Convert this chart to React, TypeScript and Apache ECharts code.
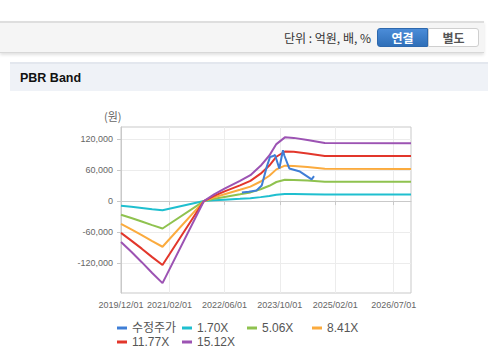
import React, { useEffect, useRef } from "react";
import * as echarts from "echarts";

// ---- data ----
const bandDates = [
  "2019-12-01", "2020-03-01", "2020-06-01", "2020-09-01", "2020-12-01",
  "2021-12-01", "2022-03-01", "2022-06-01", "2022-10-15", "2023-01-15",
  "2023-04-15", "2023-07-01", "2023-09-01", "2023-11-15", "2024-02-01",
  "2024-06-01", "2024-11-01", "2026-12-01",
];
const band170 = [-8900, -11000, -13300, -15600, -17800, 0, 1500, 2700, 4400, 5600, 7600, 9900, 12400, 13800, 13700, 13300, 12600, 12500];
const band506 = [-26400, -32800, -39500, -46500, -53000, 0, 4400, 8000, 13100, 16700, 22800, 29500, 36800, 41200, 40800, 39500, 37500, 37300];
const band841 = [-43900, -54500, -65600, -77300, -88200, 0, 7200, 13300, 21700, 27800, 37800, 48900, 61200, 68400, 67900, 65600, 62300, 62000];
const band1177 = [-61500, -76300, -91900, -108200, -123400, 0, 10100, 18700, 30400, 38900, 52900, 68500, 85600, 95700, 95000, 91900, 87200, 86800];
const band1512 = [-79000, -98000, -118000, -139000, -158500, 0, 13000, 24000, 39000, 50000, 68000, 88000, 110000, 123000, 122000, 118000, 112000, 111500];

const priceDates = [
  "2022-11-01", "2023-01-01", "2023-03-10", "2023-04-25", "2023-06-08",
  "2023-07-07", "2023-08-05", "2023-08-20", "2023-09-27", "2023-10-29",
  "2023-11-10", "2023-12-24", "2024-03-27", "2024-07-08", "2024-07-29",
];
const priceValues = [16500, 18000, 20500, 30000, 66000, 85000, 87000, 89000, 63000, 98000, 88000, 63000, 57000, 42000, 48000];

const xTickLabels = ["2019/12/01", "2021/02/01", "2022/06/01", "2023/10/01", "2025/02/01", "2026/07/01"];
const yTickValues = [-120000, -60000, 0, 60000, 120000];
const seriesNames = ["수정주가", "1.70X", "5.06X", "8.41X", "11.77X", "15.12X"];
const seriesColors = ["#3f7ed6", "#1fbfcf", "#8fc24f", "#fbab3e", "#e2362b", "#9c53b3"];

const xStart = "2019/12/01";
const xEnd = "2026/12/01";
const yMin = -177500;
const yMax = 143000;

function ts(s: string): number {
  const [y, m, d] = s.split(/[-\/]/).map(Number);
  return new Date(y, m - 1, d).getTime();
}
function pad(n: number) {
  return n < 10 ? "0" + n : "" + n;
}
function fmtDate(v: number) {
  const d = new Date(v);
  return d.getFullYear() + "/" + pad(d.getMonth() + 1) + "/" + pad(d.getDate());
}
function fmtNum(v: number) {
  const s = Math.abs(v).toString().replace(/\B(?=(\d{3})+(?!\d))/g, ",");
  return (v < 0 ? "-" : "") + s;
}

const FONT = "'Liberation Sans', 'Noto Sans CJK KR', Arial, sans-serif";
const KFONT = "'Noto Sans CJK KR', 'Liberation Sans', sans-serif";

function Chart() {
  const ref = useRef<HTMLDivElement>(null);
  useEffect(() => {
    if (!ref.current) return;
    const chart = echarts.init(ref.current, undefined, { renderer: "svg" });
    const bands = [band170, band506, band841, band1177, band1512];
    const series: any[] = [
      {
        name: seriesNames[0],
        type: "line",
        showSymbol: false,
        z: 5,
        data: priceDates.map((d, i) => [ts(d), priceValues[i]]),
        lineStyle: { width: 2, color: seriesColors[0] },
        itemStyle: { color: seriesColors[0] },
      },
      ...bands.map((b, k) => ({
        name: seriesNames[k + 1],
        type: "line",
        showSymbol: false,
        z: 2 + k * 0.1,
        data: bandDates.map((d, i) => [ts(d), b[i]]),
        lineStyle: { width: 2, color: seriesColors[k + 1] },
        itemStyle: { color: seriesColors[k + 1] },
      })),
    ];
    const legendPos = [
      [117, 322], [182, 322], [247, 322], [312, 322],
      [117, 336], [182, 336],
    ];
    chart.setOption({
      animation: false,
      textStyle: { fontFamily: FONT },
      grid: {
        left: 121,
        top: 127,
        right: 77,
        bottom: 69,
        show: true,
        borderColor: "#c9c9c9",
        borderWidth: 1,
        containLabel: false,
      },
      legend: seriesNames.map((name, j) => ({
        data: [name],
        left: legendPos[j][0],
        top: legendPos[j][1],
        padding: 0,
        icon: "rect",
        itemWidth: 10,
        itemHeight: 3,
        textStyle: { fontSize: 12, color: "#555", fontFamily: FONT },
        selectedMode: false,
      })),
      graphic: [
        {
          type: "text",
          left: 104,
          top: 110,
          style: { text: "(원)", fontSize: 11, fill: "#666", fontFamily: KFONT },
        },
      ],
      xAxis: {
        type: "value",
        min: ts(xStart),
        max: ts(xEnd),
        axisLine: { show: true, lineStyle: { color: "#c9c9c9" } },
        axisTick: {
          show: true,
          length: 4,
          lineStyle: { color: "#c9c9c9" },
          customValues: xTickLabels.map(ts),
        },
        splitLine: { show: true, lineStyle: { color: "#ececec" } },
        axisLabel: {
          customValues: xTickLabels.map(ts),
          formatter: (v: number) => fmtDate(v),
          fontSize: 9,
          color: "#666",
          margin: 7,
          fontFamily: FONT,
          showMinLabel: true,
          showMaxLabel: true,
        },
      },
      yAxis: {
        type: "value",
        min: yMin,
        max: yMax,
        axisLine: { show: true, lineStyle: { color: "#c9c9c9" } },
        axisTick: {
          show: true,
          length: 4,
          lineStyle: { color: "#c9c9c9" },
          customValues: yTickValues,
        },
        splitLine: { show: true, lineStyle: { color: "#ececec" } },
        axisLabel: {
          customValues: yTickValues,
          formatter: (v: number) => fmtNum(v),
          fontSize: 9,
          color: "#666",
          margin: 8,
          fontFamily: FONT,
        },
      },
      series,
    });
    return () => chart.dispose();
  }, []);
  return (
    <div
      ref={ref}
      style={{ position: "absolute", left: 0, top: 0, width: 488, height: 362 }}
    />
  );
}

export default function App() {
  return (
    <div
      style={{
        position: "fixed",
        left: 0,
        top: 0,
        width: 488,
        height: 362,
        background: "#fff",
        overflow: "hidden",
        fontFamily: KFONT,
      }}
    >
      <div
        style={{
          position: "absolute",
          left: 0,
          top: 21,
          width: 484,
          height: 29,
          background: "#f5f5f5",
          borderTop: "2px solid #dedede",
          borderBottom: "1px solid #d8d8d8",
          boxShadow: "0 2px 3px rgba(0,0,0,0.12)",
        }}
      />
      <div
        style={{
          position: "absolute",
          left: 230,
          top: 29,
          width: 141,
          height: 18,
          textAlign: "right",
          fontSize: 12,
          lineHeight: "18px",
          color: "#333",
          whiteSpace: "nowrap",
        }}
      >
        단위 : 억원, 배, %
      </div>
      <div
        style={{
          position: "absolute",
          left: 377,
          top: 28,
          width: 51,
          height: 19,
          background: "linear-gradient(#4b8cd8, #2f6fb8)",
          borderRadius: "3px 0 0 3px",
          color: "#fff",
          fontWeight: "bold",
          fontSize: 12,
          lineHeight: "17px",
          textAlign: "center",
          boxSizing: "border-box",
          border: "1px solid #2d68ad",
        }}
      >
        연결
      </div>
      <div
        style={{
          position: "absolute",
          left: 428,
          top: 28,
          width: 51,
          height: 19,
          background: "#fff",
          borderRadius: "0 3px 3px 0",
          color: "#555",
          fontWeight: "bold",
          fontSize: 12,
          lineHeight: "17px",
          textAlign: "center",
          boxSizing: "border-box",
          border: "1px solid #cfcfcf",
        }}
      >
        별도
      </div>
      <div
        style={{
          position: "absolute",
          left: 10,
          top: 62,
          width: 478,
          height: 29,
          background: "#eff2f7",
          borderTop: "2px solid #e3e7ee",
          boxSizing: "border-box",
        }}
      />
      <div
        style={{
          position: "absolute",
          left: 20,
          top: 69,
          fontSize: 12.5,
          lineHeight: "18px",
          fontWeight: "bold",
          color: "#111",
          fontFamily: "'Liberation Sans', 'Noto Sans CJK KR', sans-serif",
        }}
      >
        PBR Band
      </div>
      <Chart />
    </div>
  );
}
